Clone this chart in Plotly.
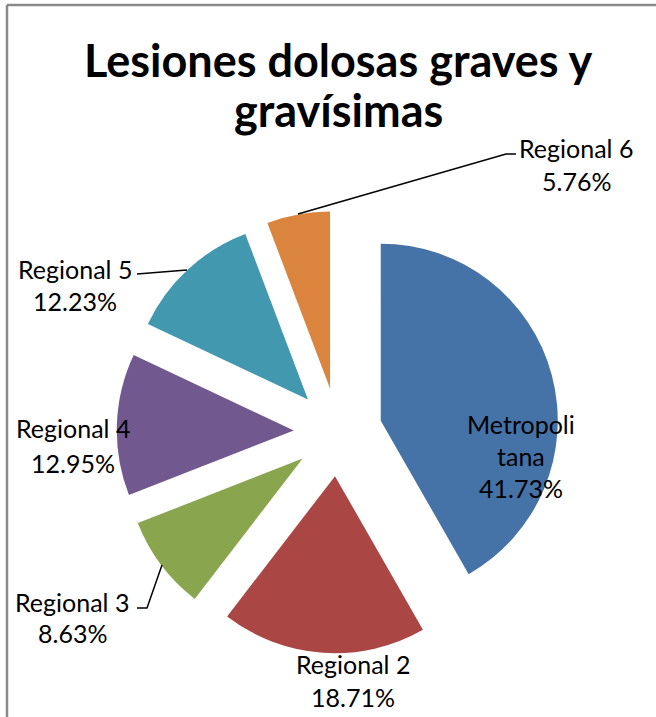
import plotly.graph_objects as go

# ---- data ----
labels = ["Metropolitana", "Regional 2", "Regional 3", "Regional 4", "Regional 5", "Regional 6"]
values = [41.73, 18.71, 8.63, 12.95, 12.23, 5.76]
colors = ["#4572A7", "#AA4643", "#89A54E", "#71588F", "#4198AF", "#DB843D"]
title_lines = ["Lesiones dolosas graves y", "gravísimas"]

W, H = 656, 717
FONT = "Lato"

# pie geometry (pixels)
cx, cy, r, pull = 338, 432, 177, 0.25
half = r * (1 + pull)


def px(x, y):
    return x / W, 1 - y / H


fig = go.Figure(go.Pie(
    labels=labels,
    values=values,
    sort=False,
    direction="clockwise",
    rotation=0,
    pull=[pull] * len(values),
    marker=dict(colors=colors, line=dict(width=0)),
    textinfo="none",
    hoverinfo="label+percent",
    showlegend=False,
    domain=dict(x=[(cx - half) / W, (cx + half) / W],
                y=[1 - (cy + half) / H, 1 - (cy - half) / H]),
))

# label layout: (name-line centres in px)
label_pos = [
    (521, 424),  # Metropolitana (inside)
    (353, 664),  # Regional 2
    (72, 602),   # Regional 3
    (73, 428),   # Regional 4
    (75, 269),   # Regional 5
    (576, 148),  # Regional 6
]
line_gap = [32, 33, 31, 35, 32, 33]

annotations = []
# title lines
for i, (t, yc) in enumerate(zip(title_lines, [60, 110])):
    ax, ay = px(338, yc)
    annotations.append(dict(
        text=f"<b>{t}</b>", x=ax, y=ay, xref="paper", yref="paper",
        xanchor="center", yanchor="middle", showarrow=False,
        font=dict(family=FONT, size=45, color="#000000")))

for name, val, (x, y), gap in zip(labels, values, label_pos, line_gap):
    lines = [name] if len(name) <= 10 else [name[:9], name[9:]]
    lines.append(f"{val:.2f}%")
    for i, t in enumerate(lines):
        ax, ay = px(x, y + i * gap)
        annotations.append(dict(
            text=t, x=ax, y=ay, xref="paper", yref="paper",
            xanchor="center", yanchor="middle", showarrow=False,
            font=dict(family=FONT, size=25, color="#000000")))

# leader lines (pixel paths)
leaders = [
    [(298, 214), (506, 154), (516, 154)],   # Regional 6
    [(137, 274), (187, 270)],               # Regional 5
    [(137, 608), (147, 608), (162, 565)],   # Regional 3
]
shapes = []
for pts in leaders:
    path = "M " + " L ".join(f"{px(x, y)[0]},{px(x, y)[1]}" for x, y in pts)
    shapes.append(dict(type="path", path=path, xref="paper", yref="paper",
                       line=dict(color="#000000", width=1.5)))

# chart-area border (top and left)
shapes.append(dict(type="line", xref="paper", yref="paper",
                   x0=px(7, 5)[0], y0=px(7, 5)[1], x1=1.05, y1=px(7, 5)[1],
                   line=dict(color="#8a8a8a", width=2.5)))
shapes.append(dict(type="line", xref="paper", yref="paper",
                   x0=px(7, 5)[0], y0=px(7, 5)[1], x1=px(7, 5)[0], y1=-0.05,
                   line=dict(color="#8a8a8a", width=2.5)))

fig.update_layout(
    width=W, height=H,
    margin=dict(l=0, r=0, t=0, b=0),
    paper_bgcolor="white", plot_bgcolor="white",
    annotations=annotations,
    shapes=shapes,
)

fig.write_html(
    "out.html",
    config={"displayModeBar": False},
    post_script="document.body.style.margin='0';document.body.style.overflow='hidden';",
)
